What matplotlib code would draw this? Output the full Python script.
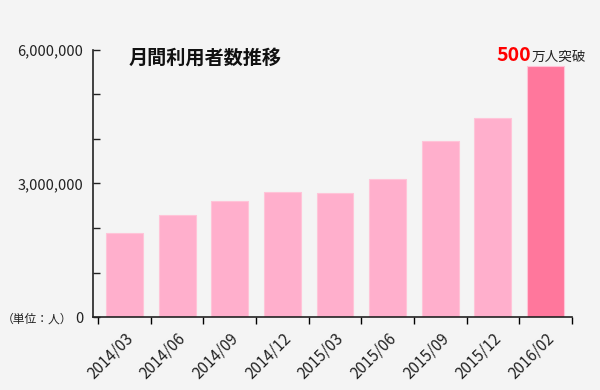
import matplotlib
matplotlib.use("Agg")
import matplotlib.pyplot as plt
import numpy as np

plt.rcParams['font.family'] = ['Noto Sans CJK JP', 'DejaVu Sans']

months = ["2014/03", "2014/06", "2014/09", "2014/12", "2015/03",
          "2015/06", "2015/09", "2015/12", "2016/02"]
users = [1890000, 2290000, 2610000, 2810000, 2790000,
         3100000, 3960000, 4470000, 5640000]
bar_colors = ["#ffafcc"] * 8 + ["#ff779c"]

fig = plt.figure(figsize=(6, 3.9), dpi=100, facecolor="#f4f4f4")
ax = fig.add_axes([0.155, 0.187, 0.798, 0.685])
ax.set_facecolor("#f4f4f4")

x = np.arange(len(months))
ax.bar(x, users, width=0.7, color=bar_colors, edgecolor="#ffc4d8", linewidth=0.8)

ax.set_xlim(-0.6, 8.5)
ax.set_ylim(0, 6000000)

# y axis: ticks every 1M pointing inward, labels every 3M
ax.set_yticks([0, 3000000, 6000000])
ax.set_yticklabels(["0", "3,000,000", "6,000,000"])
ax.set_yticks(np.arange(0, 6000001, 1000000), minor=True)
ax.tick_params(axis="y", which="both", direction="in", length=5, width=1,
               labelsize=10.5, colors="#222222", pad=7)

# x axis: tick marks between bars, labels at bar centers
ax.set_xticks(np.arange(-0.5, 8.6, 1.0), minor=True)
ax.set_xticks(x)
ax.set_xticklabels(months, rotation=45, ha="right", rotation_mode="anchor")
ax.tick_params(axis="x", which="major", length=0, labelsize=11, pad=9,
               colors="#222222")
ax.tick_params(axis="x", which="minor", direction="out", length=5, width=1)

for s in ["top", "right"]:
    ax.spines[s].set_visible(False)
for s in ["left", "bottom"]:
    ax.spines[s].set_linewidth(1.2)
    ax.spines[s].set_color("#222222")

fig.text(0.215, 0.852, "月間利用者数推移", fontsize=13.8, color="#111111",
         fontweight="bold", va="center")
fig.text(0.828, 0.858, "500", fontsize=14, color="#ff0000",
         fontweight="bold", va="center")
fig.text(0.886, 0.855, "万人突破", fontsize=9.8, color="#222222", va="center")
fig.text(0.121, 0.181, "（単位：人）", fontsize=8.5, color="#222222",
         ha="right", va="center")

fig.savefig("out.png", dpi=100, facecolor=fig.get_facecolor())
